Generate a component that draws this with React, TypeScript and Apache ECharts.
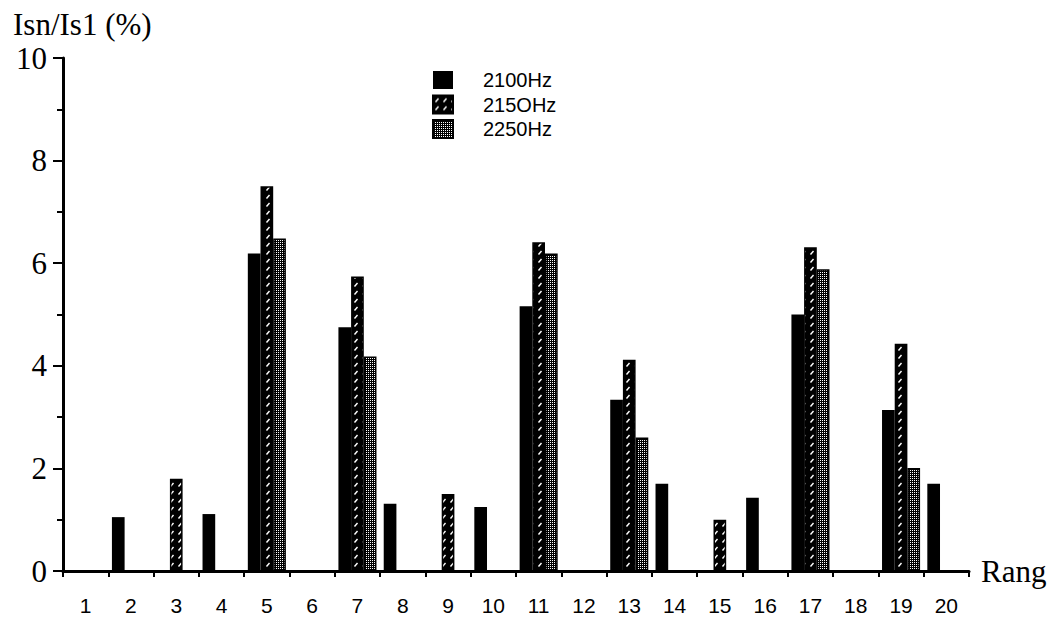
import React, { useEffect, useRef } from "react";
import * as echarts from "echarts";

const categories = ["1","2","3","4","5","6","7","8","9","10","11","12","13","14","15","16","17","18","19","20"];
const s2100 = [0, 1.05, 0, 1.11, 6.19, 0, 4.75, 1.31, 0, 1.25, 5.16, 0, 3.34, 1.70, 0, 1.43, 5.00, 0, 3.14, 1.70];
const s2150 = [0, 0, 1.80, 0, 7.50, 0, 5.74, 0, 1.50, 0, 6.41, 0, 4.12, 0, 1.00, 0, 6.31, 0, 4.43, 0];
const s2250 = [0, 0, 0, 0, 6.48, 0, 4.18, 0, 0, 0, 6.19, 0, 2.60, 0, 0, 0, 5.88, 0, 2.01, 0];
const seriesNames = ["2100Hz", "215OHz", "2250Hz"];

function makeHatch(): HTMLCanvasElement {
  const c = document.createElement("canvas");
  c.width = 8;
  c.height = 8;
  const g = c.getContext("2d")!;
  g.fillStyle = "#000";
  g.fillRect(0, 0, 8, 8);
  g.strokeStyle = "#fff";
  g.lineWidth = 1.4;
  g.beginPath();
  g.moveTo(2.5, 6.5);
  g.lineTo(5.5, 3);
  g.stroke();
  return c;
}

function makeDots(): HTMLCanvasElement {
  const c = document.createElement("canvas");
  c.width = 2;
  c.height = 2;
  const g = c.getContext("2d")!;
  g.fillStyle = "#000";
  g.fillRect(0, 0, 2, 2);
  g.fillStyle = "#fff";
  g.fillRect(0, 0, 1, 1);
  return c;
}

export default function App() {
  const ref = useRef<HTMLDivElement>(null);
  useEffect(() => {
    const chart = echarts.init(ref.current!, undefined, { renderer: "svg" });
    const hatchColor = { image: makeHatch(), repeat: "repeat" };
    const dotColor = { image: makeDots(), repeat: "repeat" };
    const base = {
      type: "bar",
      barGap: "0%",
      barCategoryGap: "16%",
    };
    chart.setOption({
      animation: false,
      backgroundColor: "#ffffff",
      grid: { left: 63, right: 88, top: 58, bottom: 46 },
      legend: {
        orient: "vertical",
        left: 432,
        top: 70,
        padding: 0,
        itemWidth: 20,
        itemHeight: 18,
        itemGap: 4.5,
        icon: "rect",
        textStyle: {
          fontFamily: "Liberation Sans, Arial, sans-serif",
          fontSize: 20,
          lineHeight: 19,
          color: "#000",
          padding: [0, 0, 0, 25],
        },
        data: seriesNames,
      },
      xAxis: {
        type: "category",
        data: categories,
        name: "Rang",
        nameLocation: "end",
        nameGap: 12,
        nameTextStyle: {
          fontFamily: "Liberation Serif, Times New Roman, serif",
          fontSize: 31,
          color: "#000",
          verticalAlign: "middle",
          padding: [6, 0, 0, 0],
        },
        axisLine: { lineStyle: { color: "#000", width: 3 } },
        axisTick: { show: true, alignWithLabel: false, length: 6, lineStyle: { color: "#000", width: 2 } },
        axisLabel: {
          fontFamily: "Liberation Sans, Arial, sans-serif",
          fontSize: 21,
          color: "#000",
          margin: 24,
        },
      },
      yAxis: {
        type: "value",
        min: 0,
        max: 10,
        interval: 2,
        name: "Isn/Is1 (%)",
        nameLocation: "end",
        nameGap: 18,
        nameTextStyle: {
          fontFamily: "Liberation Serif, Times New Roman, serif",
          fontSize: 31,
          color: "#000",
          align: "left",
          padding: [0, 0, 0, -50],
        },
        axisLine: { show: true, lineStyle: { color: "#000", width: 3 } },
        axisTick: { show: true, length: 10, lineStyle: { color: "#000", width: 2 } },
        minorTick: { show: true, splitNumber: 2, length: 6, lineStyle: { color: "#000", width: 2 } },
        splitLine: { show: false },
        axisLabel: {
          fontFamily: "Liberation Serif, Times New Roman, serif",
          fontSize: 31,
          color: "#000",
          margin: 16,
        },
      },
      series: [
        { ...base, name: seriesNames[0], data: s2100, itemStyle: { color: "#000" } },
        { ...base, name: seriesNames[1], data: s2150, itemStyle: { color: hatchColor, borderColor: "#000", borderWidth: 1.5 } },
        { ...base, name: seriesNames[2], data: s2250, itemStyle: { color: dotColor, borderColor: "#000", borderWidth: 1.5 } },
      ],
    });
    return () => chart.dispose();
  }, []);
  return <div ref={ref} style={{ width: 1057, height: 617, position: "absolute", left: 0, top: 0 }} />;
}
